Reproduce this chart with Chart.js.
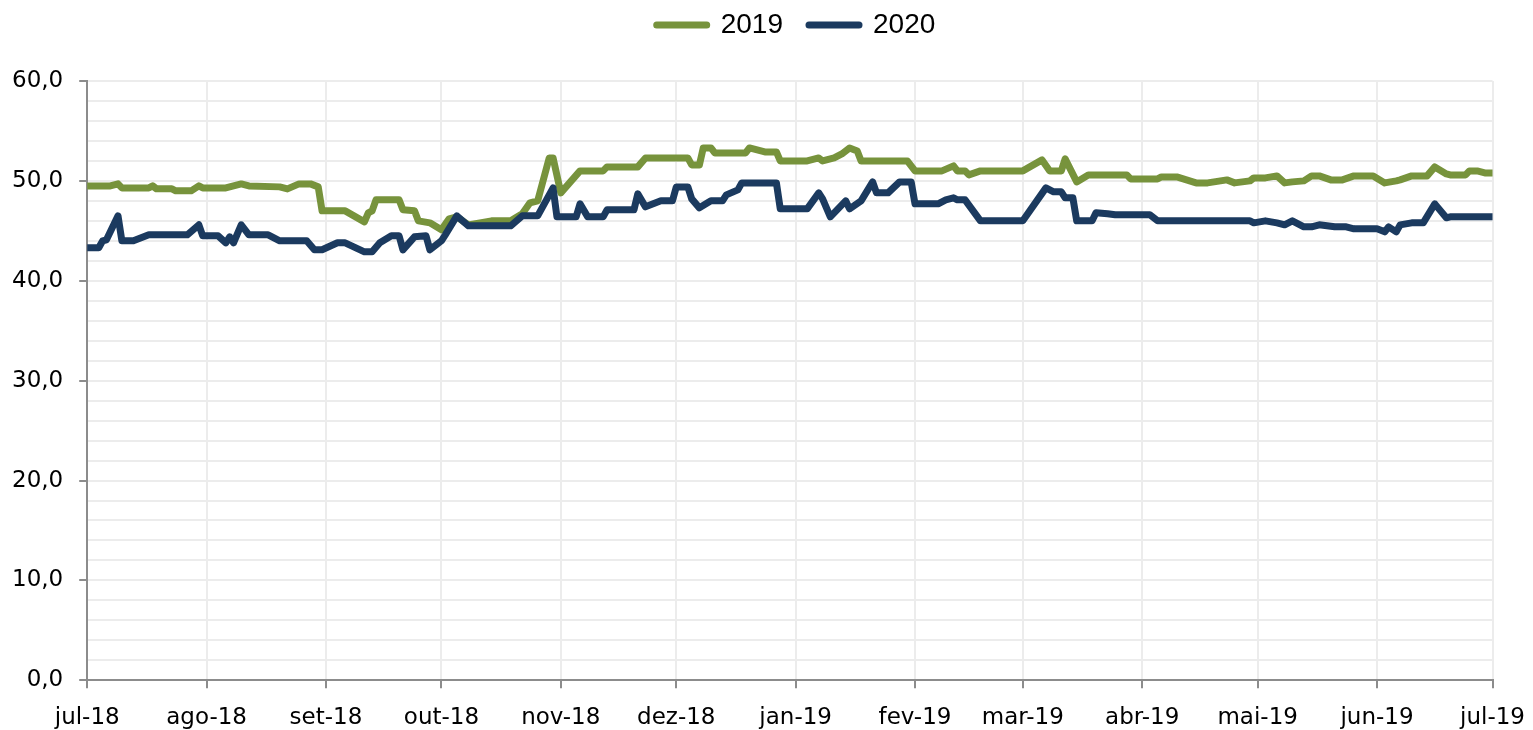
<!DOCTYPE html>
<html>
<head>
<meta charset="utf-8">
<script src="https://cdn.jsdelivr.net/npm/chart.js@4.4.1/dist/chart.umd.min.js"></script>
<style>
  html, body { margin: 0; padding: 0; background: #fff; }
</style>
</head>
<body>
<canvas id="myChart" width="1533" height="730"></canvas>
<script>
// x = days since 1 jul 2018, y = value
var days2019 = [0,6,8,9,16,17,18,22,23,27,29,30,36,40,42,50,52,55,58,60,61,67,72,73,74,75,81,82,85,86,89,92,94,96,99,105,110,113,115,117,120,121,123,128,134,135,143,145,156,157,159,160,162,163,171,172,176,179,180,187,190,191,194,196,198,200,201,213,215,222,225,226,228,229,232,243,248,250,253,254,257,260,270,271,278,279,283,288,291,296,298,302,303,306,309,311,313,316,318,320,323,326,329,334,337,340,341,344,348,350,353,354,358,359,361,363,365];
var values2019 = [49.5,49.5,49.7,49.3,49.3,49.5,49.2,49.2,49.0,49.0,49.5,49.3,49.3,49.7,49.5,49.4,49.2,49.7,49.7,49.4,47.0,47.0,45.9,46.8,47.0,48.1,48.1,47.1,47.0,46.0,45.8,45.1,46.2,46.4,45.6,46.0,46.0,46.7,47.8,48.0,52.3,52.3,48.8,51.0,51.0,51.4,51.4,52.3,52.3,51.6,51.6,53.3,53.3,52.8,52.8,53.3,52.9,52.9,52.0,52.0,52.3,52.0,52.3,52.7,53.3,53.0,52.0,52.0,51.0,51.0,51.5,51.0,51.0,50.6,51.0,51.0,52.1,51.0,51.0,52.2,49.9,50.6,50.6,50.2,50.2,50.4,50.4,49.8,49.8,50.1,49.8,50.0,50.3,50.3,50.5,49.8,49.9,50.0,50.5,50.5,50.1,50.1,50.5,50.5,49.8,50.0,50.1,50.5,50.5,51.4,50.7,50.6,50.6,51.0,51.0,50.8,50.8];

var days2020 = [0,3,4,5,8,9,12,16,26,29,30,34,36,37,38,40,42,47,50,57,59,61,65,67,72,74,76,79,81,82,85,88,89,92,93,96,99,110,113,117,121,122,127,128,130,134,135,142,143,145,149,152,153,156,157,159,162,165,166,169,170,179,180,187,190,191,193,197,198,201,204,205,208,211,214,215,221,223,225,226,228,232,243,249,251,253,254,256,257,261,262,265,267,276,278,302,303,306,309,311,313,316,318,320,324,327,329,335,337,338,340,341,344,347,350,353,354,365];
var values2020 = [43.3,43.3,44.0,44.1,46.5,44.0,44.0,44.6,44.6,45.6,44.5,44.5,43.8,44.4,43.8,45.6,44.6,44.6,44.0,44.0,43.1,43.1,43.8,43.8,42.9,42.9,43.8,44.5,44.5,43.1,44.4,44.5,43.1,44.0,44.6,46.5,45.5,45.5,46.5,46.5,49.3,46.4,46.4,47.7,46.4,46.4,47.1,47.1,48.7,47.4,48.0,48.0,49.4,49.4,48.2,47.3,48.0,48.0,48.6,49.1,49.8,49.8,47.2,47.2,48.8,48.2,46.4,48.0,47.2,48.0,49.9,48.8,48.8,49.9,49.9,47.7,47.7,48.1,48.3,48.1,48.1,46.0,46.0,49.3,48.9,48.9,48.3,48.3,46.0,46.0,46.8,46.7,46.6,46.6,46.0,46.0,45.8,46.0,45.8,45.6,46.0,45.4,45.4,45.6,45.4,45.4,45.2,45.2,44.9,45.4,44.9,45.6,45.8,45.8,47.7,46.3,46.4,46.4];

var monthDays = [0,31,62,92,123,153,184,215,243,274,304,335,365];
var monthLabels = ["jul-18","ago-18","set-18","out-18","nov-18","dez-18","jan-19","fev-19","mar-19","abr-19","mai-19","jun-19","jul-19"];
var seriesNames = ["2019","2020"];
var seriesColors = ["#77933c","#1b3a5f"];

function toPoints(xs, ys) {
  return xs.map(function (d, i) { return { x: d, y: ys[i] }; });
}

var axisGrey = "#8c8c8c";
var gridGrey = "#ececec";
var tickFont = { family: "DejaVu Sans", size: 23 };

// move the legend to where Excel put it
var legendNudge = {
  id: "legendNudge",
  afterLayout: function (chart) {
    var lg = chart.legend;
    lg.left += 51; lg.right += 51;
    lg.top -= 32; lg.bottom -= 32;
  }
};

var ctx = document.getElementById("myChart").getContext("2d");
var myChart = new Chart(ctx, {
  type: "line",
  data: {
    datasets: [{
      label: seriesNames[0],
      data: toPoints(days2019, values2019),
      borderColor: seriesColors[0],
      borderWidth: 7,
      order: 2
    }, {
      label: seriesNames[1],
      data: toPoints(days2020, values2020),
      borderColor: seriesColors[1],
      borderWidth: 7,
      order: 1
    }]
  },
  options: {
    responsive: false,
    animation: false,
    events: [],
    layout: { padding: { left: -4, right: 39, top: 17, bottom: -18 } },
    elements: {
      point: { radius: 0 },
      line: { tension: 0, fill: false, borderJoinStyle: "round", borderCapStyle: "round" }
    },
    plugins: {
      tooltip: { enabled: false },
      legend: {
        position: "top",
        labels: {
          usePointStyle: true,
          pointStyle: "line",
          pointStyleWidth: 50,
          padding: 26,
          color: "#000",
          font: { family: "Liberation Sans", size: 28 },
          sort: function (a, b) { return a.datasetIndex - b.datasetIndex; },
          generateLabels: function (chart) {
            return Chart.defaults.plugins.legend.labels.generateLabels(chart).map(function (l) {
              l.lineWidth = 7;
              l.lineCap = "round";
              l.strokeStyle = seriesColors[l.datasetIndex];
              return l;
            });
          }
        }
      }
    },
    scales: {
      x: {
        type: "linear",
        min: 0,
        max: 365,
        afterBuildTicks: function (scale) {
          scale.ticks = monthDays.map(function (d) { return { value: d }; });
        },
        ticks: {
          autoSkip: false,
          maxRotation: 0,
          padding: 8,
          color: "#000",
          font: { family: "DejaVu Sans", size: 23, lineHeight: 1.9 },
          callback: function (v, i) { return monthLabels[i]; }
        },
        grid: {
          color: function (c) { return c.index === 0 ? "rgba(0,0,0,0)" : gridGrey; },
          lineWidth: 2,
          tickColor: axisGrey,
          tickLength: 8,
          tickWidth: 2
        },
        border: { color: axisGrey, width: 2 }
      },
      y: {
        min: 0,
        max: 60,
        ticks: {
          stepSize: 2,
          autoSkip: false,
          padding: 16,
          color: "#000",
          font: tickFont,
          callback: function (v) { return v % 10 === 0 ? v.toFixed(1).replace(".", ",") : ""; }
        },
        grid: {
          color: function (c) { return c.tick.value === 0 ? "rgba(0,0,0,0)" : gridGrey; },
          lineWidth: 2,
          tickColor: function (c) { return c.tick.value % 10 === 0 ? axisGrey : "rgba(0,0,0,0)"; },
          tickLength: 8,
          tickWidth: 2
        },
        border: { color: axisGrey, width: 2 }
      }
    }
  },
  plugins: [legendNudge]
});
</script>
</body>
</html>
